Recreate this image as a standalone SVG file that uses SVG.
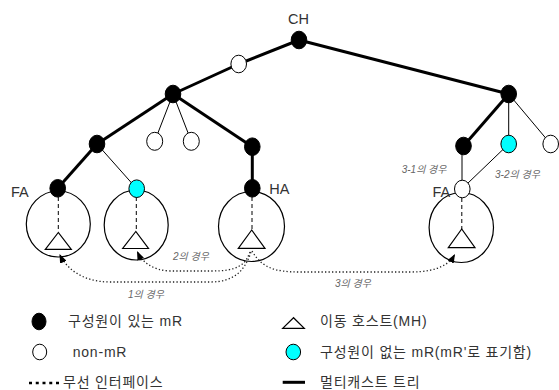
<svg xmlns="http://www.w3.org/2000/svg" width="559" height="390" viewBox="0 0 559 390">
<style>
  text { font-family: "Liberation Sans", "Noto Sans CJK KR", sans-serif; fill: #333; }
  .lbl { font-size: 14.5px; }
  .leg { font-size: 14px; letter-spacing: 0.8px; }
  .case { font-size: 10px; font-style: italic; fill: #666; }
  .thick { stroke: #000; stroke-width: 3; fill: none; }
  .thin { stroke: #000; stroke-width: 1; fill: none; }
  .dot { stroke: #222; stroke-width: 1.3; stroke-dasharray: 1.3 2.2; fill: none; }
  .dash { stroke: #000; stroke-width: 1; stroke-dasharray: 4 3; fill: none; }
  .mr { fill: #000; stroke: #000; stroke-width: 1; }
  .non { fill: #fff; stroke: #000; stroke-width: 1; }
  .cyan { fill: #00ffff; stroke: #000; stroke-width: 1; }
  .cell { fill: none; stroke: #000; stroke-width: 1.2; }
  .mh { fill: #fff; stroke: #000; stroke-width: 1.2; }
</style>
<defs>
  <marker id="arr" markerUnits="userSpaceOnUse" markerWidth="9" markerHeight="7" refX="9" refY="3.5" orient="auto">
    <path d="M0,0 L9,3.5 L0,7 z" fill="#000"/>
  </marker>
</defs>
<rect width="559" height="390" fill="#fff"/>

<g id="cells">
  <ellipse class="cell" cx="58.3" cy="224" rx="32" ry="33"/>
  <ellipse class="cell" cx="136.2" cy="225" rx="32" ry="35"/>
  <ellipse class="cell" cx="251.5" cy="226.5" rx="33" ry="35"/>
  <ellipse class="cell" cx="461.3" cy="227.5" rx="32.2" ry="35"/>
</g>

<g id="connectors">
  <line class="thick" x1="299" y1="40" x2="238.7" y2="64"/>
  <line class="thick" x1="238.7" y1="64" x2="173" y2="94"/>
  <line class="thick" x1="173" y1="94" x2="97" y2="144"/>
  <line class="thick" x1="97" y1="144" x2="57.7" y2="188.3"/>
  <line class="thick" x1="173" y1="94" x2="252.3" y2="146.7"/>
  <line class="thick" x1="252.3" y1="146.7" x2="252.3" y2="188.3"/>
  <line class="thick" x1="299" y1="40" x2="508.7" y2="94"/>
  <line class="thick" x1="508.7" y1="94" x2="463.5" y2="146"/>
  <line class="thin" x1="173" y1="94" x2="154.7" y2="141.3"/>
  <line class="thin" x1="173" y1="94" x2="191.3" y2="141.3"/>
  <line class="thin" x1="97" y1="144" x2="136.7" y2="188.7"/>
  <line class="thin" x1="508.7" y1="94" x2="508.7" y2="144"/>
  <line class="thin" x1="508.7" y1="94" x2="550.7" y2="144"/>
  <line class="thin" x1="462" y1="146" x2="462" y2="189"/>
  <line class="thin" x1="508.7" y1="144" x2="462.3" y2="188.5"/>
  <line class="dash" x1="58.3" y1="197" x2="58.3" y2="232"/>
  <line class="dash" x1="136.3" y1="197" x2="136.3" y2="231"/>
  <line class="dash" x1="252" y1="197" x2="252" y2="230"/>
  <line class="dash" x1="461.8" y1="198" x2="461.8" y2="229"/>
  <path class="dot" d="M251,252 C245,270 235,282 210,282 L110,282 C82,282 66,268 59.5,254" marker-end="url(#arr)"/>
  <path class="dot" d="M250,252 C245,266 236,271 212,271 L170,271 C152,270 142,262 137,251" marker-end="url(#arr)"/>
  <path class="dot" d="M252,251 C262,268 275,272 300,272 L410,272 C440,272 450,263 455,254" marker-end="url(#arr)"/>
</g>

<g id="mh-nodes">
  <polygon class="mh" points="58.3,232.5 45.3,249.3 71.3,249.3"/>
  <polygon class="mh" points="135.8,231.5 122.7,248.5 148.5,248.5"/>
  <polygon class="mh" points="251.7,230 238.3,248.3 265,248.3"/>
  <polygon class="mh" points="461.7,229 448.3,247.7 475,247.7"/>
</g>

<g id="node-ch"><ellipse class="mr" cx="299" cy="40" rx="7.8" ry="8.8"/><text class="lbl" x="298.5" y="24" text-anchor="middle">CH</text></g>
<g id="node-n1"><ellipse class="non" cx="238.7" cy="64" rx="7.8" ry="8.8"/></g>
<g id="node-m1"><ellipse class="mr" cx="173" cy="94" rx="7.8" ry="8.8"/></g>
<g id="node-m2"><ellipse class="mr" cx="97" cy="144" rx="7.8" ry="8.8"/></g>
<g id="node-n2"><ellipse class="non" cx="154.7" cy="141.3" rx="8" ry="9"/></g>
<g id="node-n3"><ellipse class="non" cx="191.3" cy="141.3" rx="8" ry="9"/></g>
<g id="node-m3"><ellipse class="mr" cx="252.3" cy="146.7" rx="7.8" ry="8.8"/></g>
<g id="node-fa1"><ellipse class="mr" cx="57.7" cy="188.3" rx="7.8" ry="8.8"/><text class="lbl" x="11" y="196.5">FA</text></g>
<g id="node-c1"><ellipse class="cyan" cx="136.7" cy="188.7" rx="7.8" ry="8.8"/></g>
<g id="node-ha"><ellipse class="mr" cx="252.3" cy="188.3" rx="7.8" ry="8.8"/><text class="lbl" x="269.3" y="194">HA</text></g>
<g id="node-m4"><ellipse class="mr" cx="508.7" cy="94" rx="7.8" ry="8.8"/></g>
<g id="node-m5"><ellipse class="mr" cx="463.5" cy="146" rx="7.8" ry="8.8"/></g>
<g id="node-c2"><ellipse class="cyan" cx="508.7" cy="144" rx="7.8" ry="8.8"/></g>
<g id="node-n4"><ellipse class="non" cx="550.7" cy="144" rx="7.8" ry="8.8"/></g>
<g id="node-fa2"><ellipse class="non" cx="462.3" cy="189" rx="7.8" ry="8.8"/><text class="lbl" x="432.5" y="196.5">FA</text></g>

<g id="case-labels">
  <text class="case" x="401.7" y="173">3-1의 경우</text>
  <text class="case" x="495" y="178">3-2의 경우</text>
  <text class="case" x="173" y="260">2의 경우</text>
  <text class="case" x="128" y="298">1의 경우</text>
  <text class="case" x="335" y="286.5">3의 경우</text>
</g>

<g id="legend">
  <ellipse class="mr" cx="39" cy="321.5" rx="7" ry="8.3"/>
  <text class="leg" x="68" y="326">구성원이 있는 mR</text>
  <ellipse class="non" cx="39.7" cy="352" rx="7" ry="7.8"/>
  <text class="leg" x="72.7" y="356.5">non-mR</text>
  <line x1="29" y1="383" x2="59" y2="383" stroke="#000" stroke-width="2.5" stroke-dasharray="3 3.75"/>
  <text class="leg" x="63" y="386.5">무선 인터페이스</text>
  <polygon class="mh" points="293.5,317.7 282.7,328.3 304.3,328.3"/>
  <text class="leg" x="320" y="326">이동 호스트(MH)</text>
  <ellipse class="cyan" cx="293.3" cy="352" rx="7.3" ry="7.8"/>
  <text class="leg" x="320" y="356.5">구성원이 없는 mR(mR'로 표기함)</text>
  <line x1="282.7" y1="382.3" x2="305" y2="382.3" stroke="#000" stroke-width="3"/>
  <text class="leg" x="320" y="386.5">멀티캐스트 트리</text>
</g>
</svg>
